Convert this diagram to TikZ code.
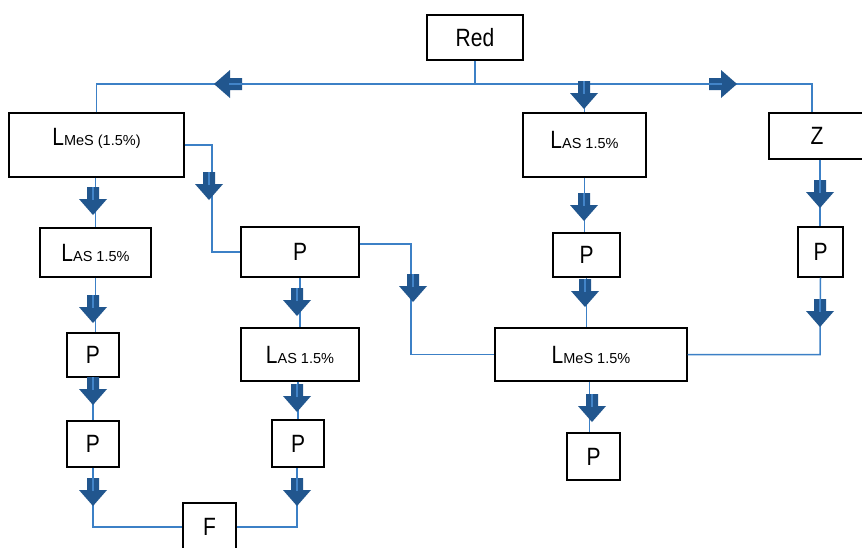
\documentclass[tikz,border=0pt]{standalone}
\usepackage{fontspec}
\setmainfont{Liberation Sans}
\newfontfamily\condfont[FakeStretch=0.84]{Liberation Sans}
\definecolor{linkblue}{RGB}{60,128,198}
\definecolor{arrowfill}{RGB}{33,86,142}
\definecolor{stripeblue}{RGB}{66,132,200}
\newcommand{\sublab}[2]{{\condfont\fontsize{25}{25}\selectfont #1}{\rmfamily\fontsize{14.5}{14.5}\selectfont #2}}
\begin{document}
\begin{tikzpicture}[x=1pt,y=-1pt,
  box/.style={draw=black, line width=1.4pt, fill=white, inner sep=0pt,
    font=\condfont\fontsize{25}{25}\selectfont},
  link/.style={draw=linkblue, line width=1.5pt},
  blk/.pic={
    \fill[arrowfill] (-6,-14) -- (6,-14) -- (6,-2) -- (14,-2) -- (0,14)
      -- (-14,-2) -- (-6,-2) -- cycle;
    \draw[stripeblue, line width=2pt] (0,-14) -- (0,-1);
  }]
\clip (0,0) rectangle (862,547);
\fill[white] (0,0) rectangle (862,547);

% boxes
\node[box, minimum width=96pt, minimum height=45pt] (red) at (475,37.5) {Red};
\node[box, minimum width=175pt, minimum height=64pt] (lmesA) at (96.5,145) {};
\node at (96.5,138) {\sublab{L}{MeS (1.5\%)}};
\node[box, minimum width=123pt, minimum height=64pt] (lasT) at (584.5,145) {};
\node at (584.5,140) {\sublab{L}{AS 1.5\%}};
\node[box, minimum width=96pt, minimum height=46pt] (z) at (817,136) {Z};
\node[box, minimum width=111pt, minimum height=49pt] (lasL) at (95.5,252.5) {\sublab{L}{AS 1.5\%}};
\node[box, minimum width=118pt, minimum height=50pt] (pm) at (300,252) {P};
\node[box, minimum width=118pt, minimum height=53pt] (lasM) at (300,354.5) {\sublab{L}{AS 1.5\%}};
\node[box, minimum width=67pt, minimum height=44pt] (prm) at (586.5,255) {P};
\node[box, minimum width=45pt, minimum height=50pt] (pr) at (820.5,252) {P};
\node[box, minimum width=192pt, minimum height=53pt] (lmesB) at (591,354.5) {\sublab{L}{MeS 1.5\%}};
\node[box, minimum width=52pt, minimum height=44pt] (p1) at (93,355) {P};
\node[box, minimum width=52pt, minimum height=46pt] (p2) at (93,444) {P};
\node[box, minimum width=52pt, minimum height=47pt] (pmb) at (298,443.5) {P};
\node[box, minimum width=53pt, minimum height=47pt] (pbr) at (593.5,456.5) {P};
\node[box, minimum width=53pt, minimum height=48pt] (f) at (209.5,527) {F};

% bend points of the connectors
\coordinate (railR) at (812,84);
\coordinate (kA) at (212,200);
\coordinate (kB) at (411,300);
\coordinate (kC) at (820,320);
\coordinate (kD) at (93,500);
\coordinate (kE) at (297,500);

% connectors
\draw[link] (lmesA.north) |- (railR) -- (railR |- z.north);
\draw[link] (red.south) -- (red.south |- railR);
\draw[link] (lasT.north |- railR) -- (lasT.north);
\draw[link] (lmesA.east) -| (kA) |- (pm.west);
\draw[link] (lmesA.south -| lasL) -- (lasL.north);
\draw[link] (lasL.south) -- (p1.north -| lasL);
\draw[link] (p1.south) -- (p2.north);
\draw[link] (p2.south) |- (kD) |- (f.west);
\draw[link] (f.east) -| (kE) -- (kE |- pmb.south);
\draw[link] (pm.south) -- (lasM.north);
\draw[link] (lasM.south -| pmb) -- (pmb.north);
\draw[link] ([yshift=8pt]pm.east) -| (kB) |- (lmesB.west);
\draw[link] (lasT.south) -- (lasT.south |- prm.north);
\draw[link] (prm.south) -- (prm.south |- lmesB.north);
\draw[link] ([xshift=-1.5pt]lmesB.south) -- ([xshift=-1.5pt]lmesB.south |- pbr.north);
\draw[link] (z.south -| kC) -- (kC |- pr.north);
\draw[link] (pr.south) -- (kC) |- (lmesB.east);

% block arrows
\pic[rotate=-90] at (228,84) {blk};
\pic[rotate=90] at (723,84) {blk};
\pic at (584,95) {blk};
\pic at (93,201) {blk};
\pic at (93,309) {blk};
\pic at (93,391) {blk};
\pic at (93,492) {blk};
\pic at (297,492) {blk};
\pic at (297,302) {blk};
\pic at (297,398) {blk};
\pic at (209,186) {blk};
\pic at (413,288) {blk};
\pic at (584,207) {blk};
\pic at (585,293) {blk};
\pic at (592,408) {blk};
\pic at (820,194) {blk};
\pic at (820,313) {blk};
\end{tikzpicture}
\end{document}
